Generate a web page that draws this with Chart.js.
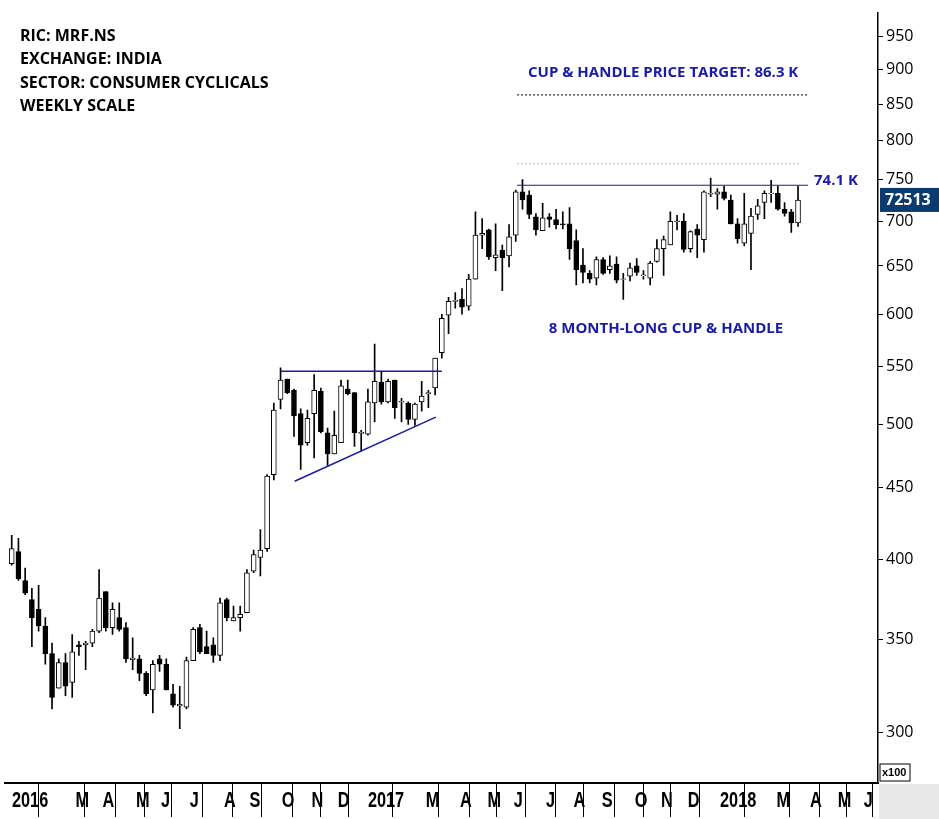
<!DOCTYPE html>
<html>
<head>
<meta charset="utf-8">
<script src="https://cdn.jsdelivr.net/npm/chart.js@4.4.1/dist/chart.umd.min.js"></script>
<style>
html,body{margin:0;padding:0;background:#fff;}
</style>
</head>
<body>
<canvas id="chartCanvas" width="939" height="819"></canvas>
<script>

// weekly candles, price in x100
const opens=[397,405,386,374,368,358,342,323,337,326,347,347,348,355,379,357,363,357,339,339,331,322,339,336,320,314,313,338,357,346,347,341,374,361,363,366,392,401,407,460,521,539,529,509,485,509,528,493,476,485,530,527,493,492,518,536,519,538,519,518,504,519,526,531,563,599,613,615,608,636,684,690,659,667,661,684,735,731,705,689,705,702,697,697,678,651,642,637,657,646,652,636,639,650,640,637,655,669,673,700,700,669,691,679,732,732,735,725,697,675,686,708,722,733,733,714,711,698];
const highs=[416,414,394,381,383,363,348,339,342,353,349,349,356,393,379,372,372,360,351,341,332,338,341,339,325,324,340,357,359,355,351,375,375,370,370,393,406,420,460,518,549,539,530,513,512,543,531,497,511,538,538,527,495,530,571,546,539,538,522,519,518,537,529,558,600,617,622,626,641,711,703,691,697,673,696,737,750,736,709,721,709,714,711,716,690,669,645,660,659,661,660,642,653,658,645,655,679,683,711,707,709,689,696,736,752,739,742,731,703,733,715,726,736,749,742,722,714,742];
const lows=[396,386,377,346,355,336,312,323,319,318,341,333,346,354,355,353,355,337,333,327,319,310,332,322,313,302,312,338,342,342,337,338,361,361,355,366,391,389,405,456,513,526,490,464,483,473,493,467,476,485,525,482,478,491,502,517,518,505,502,500,499,511,514,525,558,581,606,600,604,636,669,657,645,624,649,677,714,703,684,689,693,691,691,657,630,632,632,630,641,642,632,615,634,640,636,630,654,640,673,690,665,665,659,665,729,714,725,697,675,672,646,702,703,722,713,706,687,694];
const closes=[407,387,378,363,358,342,318,337,324,343,346,348,355,375,357,368,356,339,339,331,320,336,336,322,314,314,338,356,343,342,341,372,363,363,365,391,403,406,459,512,538,527,507,483,505,529,494,476,491,533,526,493,493,519,537,519,537,514,519,504,517,524,527,558,596,613,614,607,636,684,686,660,662,659,682,735,725,708,690,704,702,696,696,669,646,643,636,657,642,650,635,636,648,643,640,653,669,679,700,700,668,688,684,735,733,735,727,697,680,697,706,718,733,733,714,709,698,725];

// month separators (week index) and their labels
const monthTicks=[-1,8.9,12.9,17.9,21.6,25.9,31.0,34.8,39.6,44.0,47.9,52.4,61.0,66.1,70.2,74.1,78.9,83.0,87.2,92.1,96.0,100.0,104.8,113.2,118.2,122.3,126.2];
const monthLabels=["2016","M","A","M","J","J","A","S","O","N","D","2017","M","A","M","J","J","A","S","O","N","D","2018","M","A","M","J"];
const priceTicks=[300,350,400,450,500,550,600,650,700,750,800,850,900,950];

const headerLines=["RIC: MRF.NS","EXCHANGE: INDIA","SECTOR: CONSUMER CYCLICALS","WEEKLY SCALE"];
const resistance=743, target=863, ghostLine=770, lastPrice=725.13;
const triTop=546, triLowStart=455, triLowEnd=506;

const wicks=opens.map((o,i)=>({x:i,y:[lows[i],highs[i]]}));
const bodies=opens.map((o,i)=>{
let lo=Math.min(o,closes[i]), hi=Math.max(o,closes[i]);
if(hi-lo<1){lo-=0.4;hi+=0.4;}
return {x:i,y:[lo,hi]};
});
const bodyColors=opens.map((o,i)=>closes[i]>=o?"#ffffff":"#000000");

const blue="#1a1aa8";

const overlay={
id:"overlay",
afterDraw(c){
const ctx=c.ctx, xs=c.scales.x, ys=c.scales.y;
ctx.save();

function seg(x1,p1,x2,p2,color,w,dash){
ctx.beginPath();
ctx.setLineDash(dash||[]);
ctx.strokeStyle=color;ctx.lineWidth=w;
ctx.moveTo(xs.getPixelForValue(x1),ys.getPixelForValue(p1));
ctx.lineTo(xs.getPixelForValue(x2),ys.getPixelForValue(p2));
ctx.stroke();
}
seg(40,triTop,64,triTop,blue,1.5);
seg(42.1,triLowStart,63.1,triLowEnd,blue,1.5);
seg(75.2,resistance,118.5,resistance,blue,1.2);
seg(75.2,target,118.5,target,"#333",1.2,[2,2]);
seg(75.2,ghostLine,117.5,ghostLine,"#bbb",1,[2,2]);
ctx.setLineDash([]);

ctx.font="bold 15px 'Open Sans', 'DejaVu Sans', sans-serif";
ctx.fillStyle=blue;ctx.textBaseline="middle";
ctx.textAlign="left";
ctx.fillText("CUP & HANDLE PRICE TARGET: 86.3 K",528,73);
ctx.fillText("74.1 K",814,181);
ctx.textAlign="center";
ctx.fillText("8 MONTH-LONG CUP & HANDLE",666,329);

ctx.font="bold 16px 'Open Sans', 'DejaVu Sans', sans-serif";
ctx.fillStyle="#000";ctx.textAlign="left";
headerLines.forEach((t,i)=>ctx.fillText(t,20,36+i*23.5));

// month labels in the bottom band, condensed
ctx.font="bold 22px 'Liberation Sans', 'DejaVu Sans', sans-serif";
monthTicks.forEach((v,i)=>{
const px=Math.max(xs.getPixelForValue(v),8);
ctx.save();
ctx.translate(px+4,801);
ctx.scale(0.74,1);
ctx.fillText(monthLabels[i],0,0);
ctx.restore();
});

// last price box
const py=ys.getPixelForValue(lastPrice);
ctx.fillStyle="#0b3a6e";
ctx.fillRect(880,py-12,59,24);
ctx.fillStyle="#fff";
ctx.font="bold 16px 'Open Sans', 'DejaVu Sans', sans-serif";
ctx.fillText("72513",885,py+1);

// x100 box and corner
ctx.fillStyle="#e8e8e8";
ctx.fillRect(879,784,60,35);
ctx.strokeStyle="#000";ctx.lineWidth=1;
ctx.strokeRect(880,764,30,17);
ctx.fillStyle="#000";
ctx.font="bold 11px 'Liberation Sans', 'DejaVu Sans', sans-serif";
ctx.fillText("x100",882,773);
ctx.restore();
}
};

new Chart(document.getElementById("chartCanvas"),{
type:"bar",
data:{
datasets:[
{label:"body",data:bodies,backgroundColor:bodyColors,borderColor:"#000",borderWidth:1,borderSkipped:false,barThickness:5,grouped:false,order:0},
{label:"wick",data:wicks,backgroundColor:"#000",borderWidth:0,barThickness:1,grouped:false,order:1}
]
},
options:{
responsive:false,
animation:false,
devicePixelRatio:1,
layout:{padding:{top:10,left:5,right:0,bottom:0}},
plugins:{legend:{display:false},tooltip:{enabled:false}},
scales:{
x:{
type:"linear",min:-1,max:128.9,offset:false,
afterBuildTicks(s){s.ticks=monthTicks.map(v=>({value:v}));},
afterFit(s){s.height=36;},
ticks:{autoSkip:false,maxRotation:0,color:"rgba(0,0,0,0)",font:{size:1},callback:()=>""},
grid:{drawOnChartArea:false,tickLength:34,color:"#000",lineWidth:1},
border:{color:"#000",width:2}
},
y:{
type:"logarithmic",position:"right",min:276,max:989,
afterBuildTicks(s){s.ticks=priceTicks.map(v=>({value:v}));},
afterFit(s){s.width=61;},
ticks:{
color:"#000",padding:3,
font:{family:"'Open Sans', 'DejaVu Sans', sans-serif",size:16},
callback:v=>String(v)
},
grid:{drawOnChartArea:false,tickLength:5,color:"#000"},
border:{color:"#000",width:1.5}
}
}
},
plugins:[overlay]
});

</script>
</body>
</html>
